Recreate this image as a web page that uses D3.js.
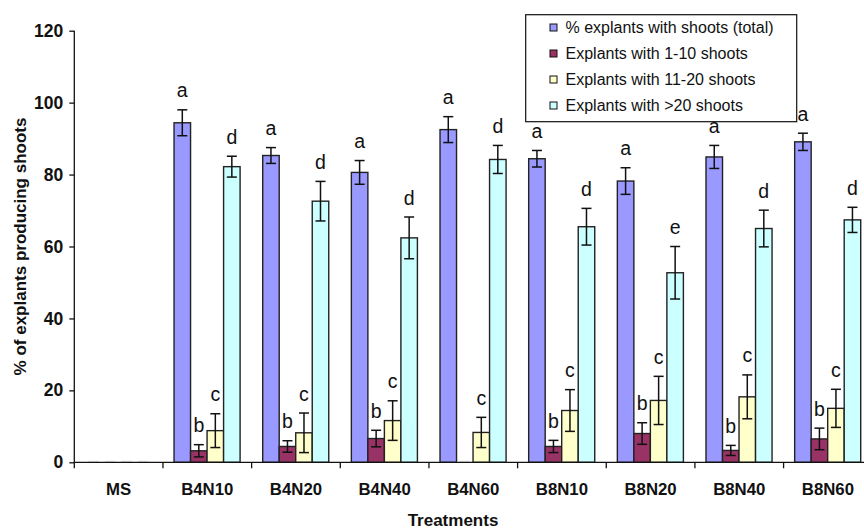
<!DOCTYPE html>
<html>
<head>
<meta charset="utf-8">
<script src="https://cdn.jsdelivr.net/npm/d3@7"></script>
<style>
  html, body { margin: 0; padding: 0; background: #fff; }
  svg { display: block; font-family: "Liberation Sans", Arial, sans-serif; }
</style>
</head>
<body>
<svg id="chart" width="864" height="529"></svg>
<script>
const categories = ["MS", "B4N10", "B4N20", "B4N40", "B4N60", "B8N10", "B8N20", "B8N40", "B8N60"];
const seriesNames = ["% explants with shoots (total)", "Explants with 1-10 shoots", "Explants with 11-20 shoots", "Explants with >20 shoots"];
const seriesColors = ["#9999FF", "#993366", "#FFFFCC", "#CCFFFF"];

const totalValues   = [0, 94.4, 85.3, 80.6, 92.5, 84.4, 78.2, 84.9, 89.1];
const totalErrors   = [0, 3.6, 2.2, 3.3, 3.6, 2.3, 3.7, 3.2, 2.4];
const shoots1to10   = [0, 3.2, 4.4, 6.6, 0, 4.4, 8.0, 3.3, 6.5];
const err1to10      = [0, 1.7, 1.6, 2.3, 0, 1.7, 3.0, 1.4, 3.0];
const shoots11to20  = [0, 8.8, 8.2, 11.6, 8.3, 14.4, 17.2, 18.2, 15.0];
const err11to20     = [0, 4.7, 5.5, 5.5, 4.2, 5.8, 6.7, 6.1, 5.3];
const shootsOver20  = [0, 82.2, 72.6, 62.4, 84.2, 65.5, 52.7, 65.0, 67.4];
const errOver20     = [0, 2.9, 5.5, 5.8, 3.9, 5.1, 7.3, 5.1, 3.5];

const lettersTotal  = ["", "a", "a", "a", "a", "a", "a", "a", "a"];
const letters1to10  = ["", "b", "b", "b", "", "b", "b", "b", "b"];
const letters11to20 = ["", "c", "c", "c", "c", "c", "c", "c", "c"];
const lettersOver20 = ["", "d", "d", "d", "d", "d", "e", "d", "d"];

const yTicks = [0, 20, 40, 60, 80, 100, 120];

const seriesValues = [totalValues, shoots1to10, shoots11to20, shootsOver20];
const seriesErrors = [totalErrors, err1to10, err11to20, errOver20];
const seriesLetters = [lettersTotal, letters1to10, letters11to20, lettersOver20];

const svg = d3.select("#chart");
const x0Left = 74.3, groupW = 88.66;
const y = d3.scaleLinear().domain([0, 120]).range([462.3, 30.7]);
const x0 = d3.scaleBand().domain(categories).range([x0Left, x0Left + groupW * categories.length]).padding(0);
const bw = x0.bandwidth();
const x1 = d3.scaleBand().domain(d3.range(4)).range([bw * 0.125, bw * 0.87]).padding(0);

const records = [];
categories.forEach((c, ci) => {
  for (let s = 0; s < 4; s++) {
    records.push({ cat: c, s, v: seriesValues[s][ci], e: seriesErrors[s][ci], l: seriesLetters[s][ci] });
  }
});

const g = svg.append("g");

// faint zero-height bars
g.selectAll("line.zero").data(records.filter(d => d.v === 0)).join("line")
  .attr("class", "zero")
  .attr("x1", d => x0(d.cat) + x1(d.s) + 3).attr("x2", d => x0(d.cat) + x1(d.s) + x1.bandwidth() - 3)
  .attr("y1", y(0) - 1).attr("y2", y(0) - 1)
  .attr("stroke", "#ddd").attr("stroke-width", 1);

// bars
g.selectAll("rect.bar").data(records.filter(d => d.v > 0)).join("rect")
  .attr("class", "bar")
  .attr("x", d => x0(d.cat) + x1(d.s))
  .attr("y", d => y(d.v))
  .attr("width", x1.bandwidth())
  .attr("height", d => y(0) - y(d.v))
  .attr("fill", d => seriesColors[d.s])
  .attr("stroke", "#222")
  .attr("stroke-width", 1.4);

// error bars
const eb = g.selectAll("g.err").data(records.filter(d => d.e > 0)).join("g").attr("class", "err")
  .attr("stroke", "#111").attr("stroke-width", 1.5);
const cx = d => x0(d.cat) + x1(d.s) + x1.bandwidth() / 2;
const cap = 5;
eb.append("line").attr("x1", cx).attr("x2", cx).attr("y1", d => y(d.v + d.e)).attr("y2", d => y(d.v - d.e));
eb.append("line").attr("x1", d => cx(d) - cap).attr("x2", d => cx(d) + cap).attr("y1", d => y(d.v + d.e)).attr("y2", d => y(d.v + d.e));
eb.append("line").attr("x1", d => cx(d) - cap).attr("x2", d => cx(d) + cap).attr("y1", d => y(d.v - d.e)).attr("y2", d => y(d.v - d.e));

// letters
g.selectAll("text.letter").data(records.filter(d => d.l)).join("text")
  .attr("class", "letter")
  .attr("x", cx)
  .attr("y", d => y(d.v + d.e) - 12.5)
  .attr("text-anchor", "middle")
  .attr("font-size", 19.5)
  .attr("fill", "#111")
  .text(d => d.l);

// y axis
const yAxis = svg.append("g").attr("transform", `translate(${x0Left},0)`)
  .call(d3.axisLeft(y).tickValues(yTicks).tickSize(5).tickPadding(6));
yAxis.select(".domain").attr("stroke", "#111").attr("stroke-width", 1.3).attr("d", `M0,${y(120)}V${y(0)}`);
yAxis.selectAll(".tick line").attr("stroke", "#111").attr("stroke-width", 1.3);
yAxis.selectAll(".tick text").attr("font-size", 17.5).attr("font-weight", "bold").attr("fill", "#111")
  .attr("font-family", "Liberation Sans, Arial, sans-serif");

// x axis
const xAxisG = svg.append("g").attr("transform", `translate(0,${y(0)})`);
xAxisG.append("line").attr("x1", x0Left).attr("x2", x0Left + groupW * categories.length)
  .attr("stroke", "#111").attr("stroke-width", 1.3);
xAxisG.selectAll("line.tk").data(categories).join("line").attr("class", "tk")
  .attr("x1", d => x0(d)).attr("x2", d => x0(d)).attr("y1", 0).attr("y2", 6)
  .attr("stroke", "#111").attr("stroke-width", 1.3);
xAxisG.selectAll("text.cl").data(categories).join("text").attr("class", "cl")
  .attr("x", d => x0(d) + bw / 2).attr("y", 33)
  .attr("text-anchor", "middle").attr("font-size", 16.8).attr("font-weight", "bold").attr("fill", "#111")
  .text(d => d);

// axis titles
svg.append("text").attr("x", 453).attr("y", 525.5).attr("text-anchor", "middle")
  .attr("font-size", 17).attr("font-weight", "bold").attr("fill", "#111").text("Treatments");
svg.append("text").attr("transform", `translate(26,${(y(0) + y(120)) / 2}) rotate(-90)`)
  .attr("text-anchor", "middle").attr("font-size", 17).attr("font-weight", "bold").attr("fill", "#111")
  .text("% of explants producing shoots");

// legend
const lg = svg.append("g");
lg.append("rect").attr("x", 525.7).attr("y", 14.7).attr("width", 271).attr("height", 107)
  .attr("fill", "#fff").attr("stroke", "#111").attr("stroke-width", 1.2);
const items = lg.selectAll("g.li").data(seriesNames).join("g").attr("class", "li")
  .attr("transform", (d, i) => `translate(550,${27.5 + i * 26})`);
items.append("rect").attr("x", 0).attr("y", -3.5).attr("width", 7).attr("height", 7)
  .attr("fill", (d, i) => seriesColors[i]).attr("stroke", "#111").attr("stroke-width", 1);
items.append("text").attr("x", 15.5).attr("y", 5.8).attr("font-size", 16).attr("fill", "#111").text(d => d);
</script>
</body>
</html>
